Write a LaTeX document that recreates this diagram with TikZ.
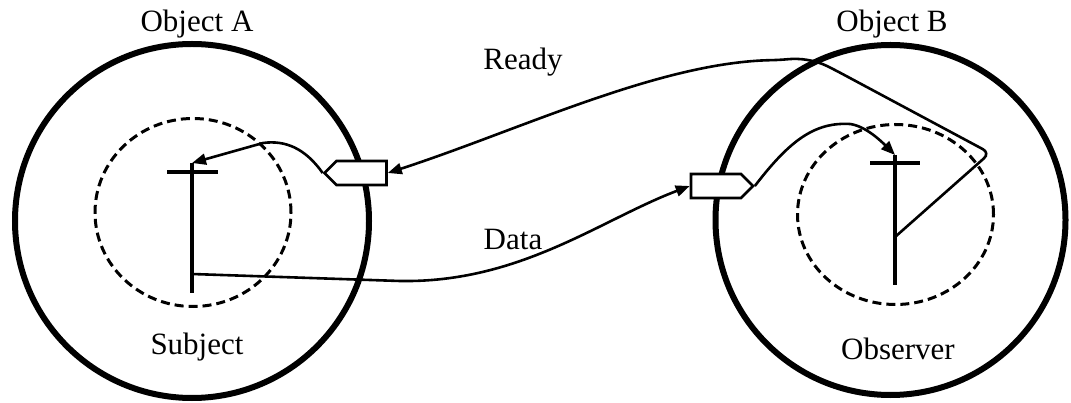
\documentclass[tikz,border=0pt]{standalone}
\usepackage{fontspec}
\setmainfont{Liberation Serif}
\usetikzlibrary{positioning,shapes.geometric,shapes.symbols,arrows.meta}

\begin{document}
\begin{tikzpicture}[x=1pt,y=-1pt,>={Triangle[length=14pt,width=11pt]},
  obj/.style={draw,circle,line width=6pt,minimum size=#1,inner sep=0pt},
  core/.style={draw,ellipse,dash pattern=on 9pt off 5pt,line width=3pt,inner sep=0pt},
  port/.style={draw,signal,line width=2.6pt,fill=white,minimum width=62pt,minimum height=24pt,inner sep=0pt},
  pole/.style={line width=4pt},
  flow/.style={line width=2.6pt},
  lbl/.style={font=\fontsize{31}{35}\selectfont}]
\useasboundingbox (0,0) rectangle (1071,403);
% the two objects
\node[obj=354pt] (objA) at (192,221) {};
\node[obj=350pt] (objB) at (890.5,220) {};
\node[core,minimum width=196pt,minimum height=188pt] (coreA) at (193,212.5) {};
\node[core,minimum width=196pt,minimum height=180pt] (coreB) at (895.5,214.5) {};
\node[lbl] (labA) at (197,24) {Object A};
\node[lbl] (labB) at (892,24) {Object B};
\node[lbl] (subj) at (197,347) {Subject};
\node[lbl] (obs) at (898,349) {Observer};
% poles
\coordinate (subjtop) at (192,163);
\coordinate (subjbot) at (192,293);
\coordinate (subjdata) at (192,274);
\coordinate (obstop) at (895,155);
\coordinate (obsbot) at (895,285);
\coordinate (obsmid) at (895,237);
\draw[pole] (subjtop) -- (subjbot);
\draw[pole] (167,172) -- (218,172);
\draw[pole] (obstop) -- (obsbot);
\draw[pole] (870,163) -- (920,163);
% ports
\node[port,signal to=west] (portA) at (361.5,173) {};
\node[port,signal to=east] (portB) at (716,186) {};
% messages
\draw[flow,->,rounded corners=8pt] (obsmid) -- (990,153) -- (835,70)
  .. controls (815,60) and (800,58) .. (780,60)
  .. controls (660,62) and (520,130) .. (portA.east);
\draw[flow,->] (subjdata) -- (400,281) .. controls (520,283) and (600,220) .. (portB.west);
\draw[flow,->] (portA.west) .. controls (305,148) and (285,140) .. (263,143) -- (subjtop);
\draw[flow,->] (portB.east) .. controls (790,140) and (815,122) .. (850,124)
  .. controls (865,126) and (880,140) .. (obstop);
\node[lbl] (ready) at (523,62) {Ready};
\node[lbl] (data) at (513,240) {Data};
\end{tikzpicture}
\end{document}
